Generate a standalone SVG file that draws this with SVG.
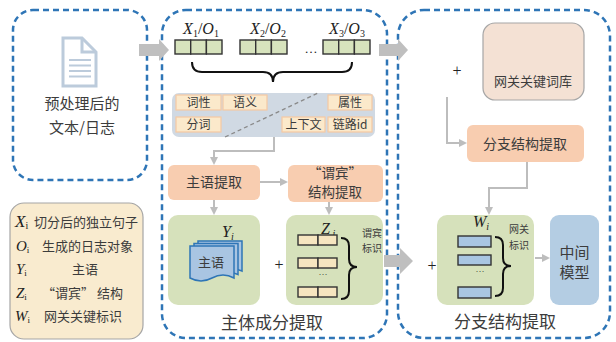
<svg xmlns="http://www.w3.org/2000/svg" width="616" height="342" viewBox="0 0 616 342">
<defs>
<style>
.dash{fill:none;stroke:#2e75b6;stroke-width:2.5;stroke-dasharray:6 4}
.cn{font-family:"Noto Sans CJK SC","Noto Sans",sans-serif;fill:#3c3c3c}
.lt{font-family:"Liberation Serif",serif;fill:#222}
.it{font-style:italic}
.tag{fill:#fbe9cb;stroke:#f6c9a2;stroke-width:1.2}
.peach{fill:#f8cdb0}
.green{fill:#d6e1bb}
.cellg{fill:#d7e3bd;stroke:#333;stroke-width:1.4}
.celly{fill:#f6e5c0;stroke:#333;stroke-width:1.4}
.cellb{fill:#a9c6e2;stroke:#333;stroke-width:1.4}
.conn{fill:none;stroke:#bdbdbd;stroke-width:2}
.brace{fill:none;stroke:#111;stroke-width:2}
.big{fill:#bfbfbf}
</style>
<marker id="ah" markerWidth="8" markerHeight="8" refX="6" refY="4" orient="auto" markerUnits="userSpaceOnUse">
<path d="M0,0 L8,4 L0,8 z" fill="#bdbdbd"/>
</marker>
</defs>
<rect width="616" height="342" fill="#fff"/>

<!-- left dashed box -->
<g id="input">
<rect class="dash" x="13" y="10" width="134" height="170" rx="20"/>
<g fill="none" stroke="#bccbdb" stroke-width="3">
<path d="M63,38 H82 L96,52 V86 H63 Z"/>
<path d="M82,38 V52 H96"/>
<path d="M69,60 H91 M69,65.5 H91 M69,71 H91 M69,76.5 H91" stroke-width="2"/>
</g>
<text class="cn" x="82" y="109" font-size="15" text-anchor="middle">预处理后的</text>
<text class="cn" x="82" y="133" font-size="15" text-anchor="middle">文本/日志</text>
</g>

<!-- legend -->
<g id="legend">
<rect x="10" y="203" width="133" height="136" rx="14" fill="#f9ebcf" stroke="#a6a6a6" stroke-width="1.2"/>
<text class="lt" x="15" y="227" font-size="17"><tspan class="it">X</tspan><tspan font-size="10" dy="2">i</tspan></text>
<text class="cn" x="34" y="227" font-size="13">切分后的独立句子</text>
<text class="lt" x="16" y="251" font-size="15"><tspan class="it">O</tspan><tspan font-size="9" dy="2">i</tspan></text>
<text class="cn" x="42" y="251" font-size="13">生成的日志对象</text>
<text class="lt" x="16" y="274" font-size="15"><tspan class="it">Y</tspan><tspan font-size="9" dy="2">i</tspan></text>
<text class="cn" x="85" y="274" font-size="13" text-anchor="middle">主语</text>
<text class="lt" x="16" y="298" font-size="15"><tspan class="it">Z</tspan><tspan font-size="9" dy="2">i</tspan></text>
<text class="cn" x="42" y="298" font-size="13">“谓宾” 结构</text>
<text class="lt" x="15" y="321" font-size="15"><tspan class="it">W</tspan><tspan font-size="9" dy="2">i</tspan></text>
<text class="cn" x="44" y="321" font-size="13">网关关键标识</text>
</g>

<!-- middle dashed box -->
<g id="subject-extraction">
<rect class="dash" x="162" y="10" width="225" height="328" rx="24"/>
<text class="cn" x="272" y="329" font-size="17" text-anchor="middle">主体成分提取</text>
</g>

<!-- sentence cells -->
<g id="sentences">
<text class="lt" x="201" y="34" font-size="16" text-anchor="middle"><tspan class="it">X</tspan><tspan font-size="10" dy="3">1</tspan><tspan dy="-3">/</tspan><tspan class="it">O</tspan><tspan font-size="10" dy="3">1</tspan></text>
<text class="lt" x="268" y="34" font-size="16" text-anchor="middle"><tspan class="it">X</tspan><tspan font-size="10" dy="3">2</tspan><tspan dy="-3">/</tspan><tspan class="it">O</tspan><tspan font-size="10" dy="3">2</tspan></text>
<text class="lt" x="347" y="34" font-size="16" text-anchor="middle"><tspan class="it">X</tspan><tspan font-size="10" dy="3">3</tspan><tspan dy="-3">/</tspan><tspan class="it">O</tspan><tspan font-size="10" dy="3">3</tspan></text>
<rect class="cellg" x="175" y="40" width="15.7" height="14"/><rect class="cellg" x="190.7" y="40" width="15.7" height="14"/><rect class="cellg" x="206.4" y="40" width="15.6" height="14"/>
<rect class="cellg" x="240" y="40" width="15.7" height="14"/><rect class="cellg" x="255.7" y="40" width="15.7" height="14"/><rect class="cellg" x="271.4" y="40" width="15.6" height="14"/>
<rect class="cellg" x="323" y="40" width="15.7" height="14"/><rect class="cellg" x="338.7" y="40" width="15.7" height="14"/><rect class="cellg" x="354.4" y="40" width="15.6" height="14"/>
<text class="lt" x="311" y="53" font-size="13" text-anchor="middle">…</text>
<path class="brace" d="M192,62 Q192,72 202,72 L263,72 Q273,72 273,82 Q273,72 283,72 L342,72 Q352,72 352,62"/>
</g>

<!-- feature panel -->
<g id="features">
<rect x="172" y="93" width="203" height="44" rx="7" fill="#d0d9e3"/>
<line x1="225" y1="137" x2="318" y2="93" stroke="#8a8a8a" stroke-width="1.3" stroke-dasharray="4 3"/>
<rect class="tag" x="176" y="95" width="45" height="15"/><text class="cn" x="198.5" y="107" font-size="12" text-anchor="middle">词性</text>
<rect class="tag" x="223" y="95" width="44" height="15"/><text class="cn" x="245" y="107" font-size="12" text-anchor="middle">语义</text>
<rect class="tag" x="328" y="95" width="44" height="15"/><text class="cn" x="350" y="107" font-size="12" text-anchor="middle">属性</text>
<rect class="tag" x="176" y="117" width="45" height="15"/><text class="cn" x="198.5" y="129" font-size="12" text-anchor="middle">分词</text>
<rect class="tag" x="282" y="117" width="43" height="15"/><text class="cn" x="303.5" y="129" font-size="12" text-anchor="middle">上下文</text>
<rect class="tag" x="328" y="117" width="44" height="15"/><text class="cn" x="350" y="129" font-size="12" text-anchor="middle">链路id</text>
</g>

<!-- subject extraction box -->
<g id="subject-box">
<rect class="peach" x="168" y="165" width="92" height="35" rx="6"/>
<text class="cn" x="214" y="187" font-size="14" text-anchor="middle">主语提取</text>
</g>
<g id="pred-obj-box">
<rect class="peach" x="288" y="165" width="95" height="37" rx="6"/>
<text class="cn" x="335" y="178" font-size="13.5" text-anchor="middle">“谓宾”</text>
<text class="cn" x="335" y="197" font-size="13.5" text-anchor="middle">结构提取</text>
</g>

<!-- Y green box -->
<g id="subject-result">
<rect class="green" x="168" y="215" width="92" height="90" rx="10"/>
<text class="lt it" x="222" y="237" font-size="16">Y<tspan font-size="10" dy="3">i</tspan></text>
<path d="M198,241 h44 v30 q-11,-5 -22,0 t-22,0 z" fill="#a9c5e2" stroke="#2e75b6" stroke-width="1.5"/>
<path d="M194,243.5 h44 v31 q-11,-5 -22,0 t-22,0 z" fill="#a9c5e2" stroke="#2e75b6" stroke-width="1.5"/>
<path d="M190,246 h44 v32 q-11,-6 -22,0 t-22,0 z" fill="#a9c5e2" stroke="#2e75b6" stroke-width="1.5"/>
<text class="cn" x="211" y="267" font-size="13" text-anchor="middle">主语</text>
</g>
<text class="lt" x="279" y="270" font-size="16" text-anchor="middle">+</text>

<!-- Z green box -->
<g id="pred-obj-result">
<rect class="green" x="286" y="215" width="97" height="90" rx="10"/>
<text class="lt it" x="321" y="234" font-size="16">Z<tspan font-size="10" dy="3"> i</tspan></text>
<rect class="celly" x="298" y="235" width="20" height="10"/><rect class="celly" x="318" y="235" width="19" height="10"/>
<rect class="celly" x="298" y="258" width="20" height="10"/><rect class="celly" x="318" y="258" width="19" height="10"/>
<rect class="celly" x="298" y="287" width="20" height="10"/><rect class="celly" x="318" y="287" width="19" height="10"/>
<text class="lt" x="323" y="275" font-size="9" text-anchor="middle" fill="#888">…</text>
<path class="brace" d="M341,238 Q349,238 349,246 L349,259 Q349,267 357,267 Q349,267 349,275 L349,291 Q349,299 341,299"/>
<text class="cn" x="372" y="237" font-size="10" text-anchor="middle" fill="#666">谓宾</text>
<text class="cn" x="372" y="252" font-size="10" text-anchor="middle" fill="#666">标识</text>
</g>

<!-- right dashed box -->
<g id="branch-extraction">
<rect class="dash" x="398" y="10" width="212" height="328" rx="26"/>
<text class="cn" x="505" y="328" font-size="17" text-anchor="middle">分支结构提取</text>
</g>
<text class="lt" x="457" y="76" font-size="16" text-anchor="middle">+</text>
<g id="keyword-lib">
<rect x="483" y="23" width="101" height="77" rx="12" fill="#f4e1d4" stroke="#a6a6a6" stroke-width="1.2"/>
<text class="cn" x="533" y="86" font-size="13" text-anchor="middle">网关关键词库</text>
</g>
<g id="branch-box">
<rect class="peach" x="467" y="125" width="117" height="37" rx="6"/>
<text class="cn" x="525" y="149" font-size="14" text-anchor="middle">分支结构提取</text>
</g>
<g id="branch-result">
<rect class="green" x="437" y="215" width="97" height="90" rx="10"/>
<text class="lt it" x="473" y="227" font-size="16">W<tspan font-size="10" dy="3">i</tspan></text>
<rect class="cellb" x="458" y="236" width="33" height="11"/>
<rect class="cellb" x="458" y="255" width="33" height="10"/>
<rect class="cellb" x="458" y="287" width="33" height="11"/>
<text class="lt" x="480" y="272" font-size="9" text-anchor="middle">…</text>
<path class="brace" d="M495,237 Q503,237 503,245 L503,258 Q503,266 511,266 Q503,266 503,274 L503,288 Q503,296 495,296"/>
<text class="cn" x="519" y="233" font-size="10" text-anchor="middle" fill="#666">网关</text>
<text class="cn" x="519" y="249" font-size="10" text-anchor="middle" fill="#666">标识</text>
</g>
<text class="lt" x="432" y="271" font-size="16" text-anchor="middle">+</text>
<g id="intermediate-model">
<rect x="550" y="215" width="49" height="90" rx="9" fill="#b4cde3"/>
<text class="cn" x="574.5" y="258" font-size="15" text-anchor="middle">中间</text>
<text class="cn" x="574.5" y="278" font-size="15" text-anchor="middle">模型</text>
</g>

<!-- connectors -->
<g id="connectors">
<path class="big" d="M139,44 H159 V39 L169,50 L159,61 V56 H139 Z"/>
<path class="big" d="M379,44 H398 V39 L408,50 L398,61 V56 H379 Z"/>
<path class="big" d="M384,255 H400 V248 L413,261 L400,274 V267 H384 Z"/>
<path class="conn" d="M274,137 V151 H214 V163" marker-end="url(#ah)"/>
<path class="conn" d="M260,182 H286" marker-end="url(#ah)"/>
<path class="conn" d="M214,200 V213" marker-end="url(#ah)"/>
<path class="conn" d="M329,202 V213" marker-end="url(#ah)"/>
<path class="conn" d="M447,97 V143 H465" marker-end="url(#ah)"/>
<path class="conn" d="M527,162 V188 H489 V213" marker-end="url(#ah)"/>
<path class="conn" d="M535,258 H548" stroke="#d0d0d0" marker-end="url(#ah)"/>
</g>
</svg>
